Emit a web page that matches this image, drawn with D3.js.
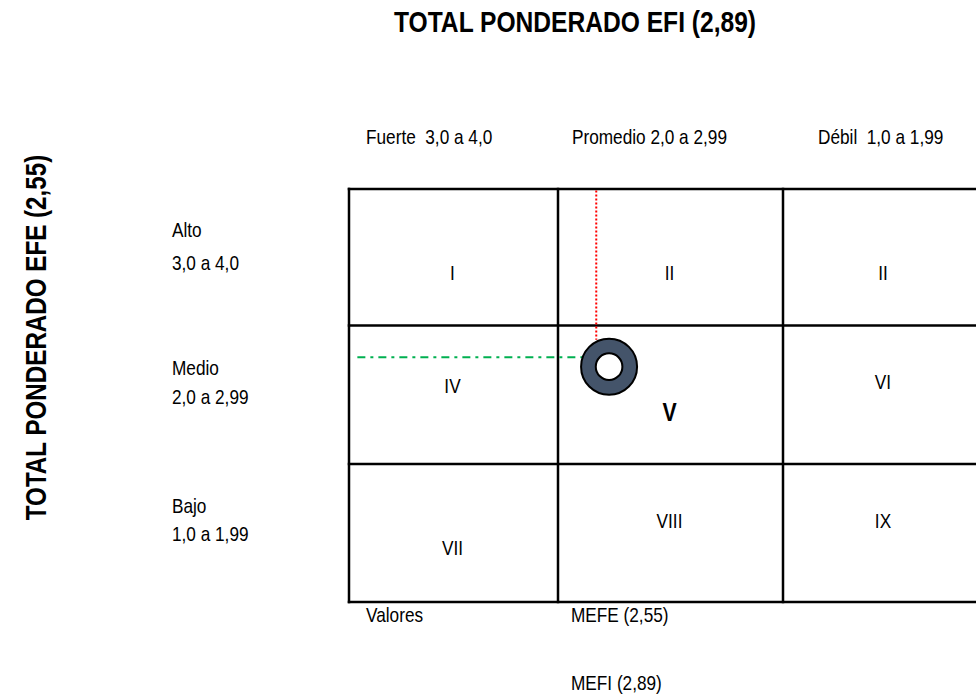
<!DOCTYPE html>
<html>
<head>
<meta charset="utf-8">
<script src="https://cdn.jsdelivr.net/npm/d3@7"></script>
<style>
  html, body { margin: 0; padding: 0; background: #fff; }
  svg { display: block; }
  text { font-family: "Liberation Sans", Arial, sans-serif; fill: #000; }
</style>
</head>
<body>
<svg id="chart" width="976" height="698"></svg>
<script>
// ---- data ----
const chartTitle = "TOTAL PONDERADO EFI (2,89)";
const yTitle = "TOTAL PONDERADO EFE (2,55)";
const colBreaks = [4, 3, 2, 1];           // EFI scale (Fuerte -> Débil)
const rowBreaks = [4, 3, 2, 1];           // EFE scale (Alto -> Bajo)
const colLabels = ["Fuerte  3,0 a 4,0", "Promedio 2,0 a 2,99", "Débil  1,0 a 1,99"];
const rowNames = ["Alto", "Medio", "Bajo"];
const rowRanges = ["3,0 a 4,0", "2,0 a 2,99", "1,0 a 1,99"];
const cellLabels = ["I", "II", "II", "IV", "V", "VI", "VII", "VIII", "IX"];
const footLabels = ["Valores", "MEFE (2,55)", "MEFI (2,89)"];
// marker positions (in EFI / EFE units)
const guideEFI = 2.83;     // red dotted vertical guide
const guideEFE = 2.77;     // green dash-dot horizontal guide
const guideStartEFI = 3.96;
const pointEFI = 2.773;    // circle marker
const pointEFE = 2.703;

// ---- layout ----
const svg = d3.select("#chart");
const x = d3.scaleLinear().domain(colBreaks).range([349, 558, 783, 985]);
const y = d3.scaleLinear().domain(rowBreaks).range([189, 325.5, 464, 602]);
const NARROW = 0.82;
const FS = 21;

function narrowText(sel, tx, ty, str, opts = {}) {
  const t = sel.append("text")
    .attr("transform", `translate(${tx},${ty})${opts.rotate ? ` rotate(${opts.rotate})` : ""} scale(${NARROW},1)`)
    .attr("text-anchor", opts.anchor || "start")
    .attr("xml:space", "preserve")
    .style("font-size", (opts.size || FS) + "px")
    .style("font-weight", opts.bold ? "bold" : "normal")
    .text(str);
  return t;
}

// title
narrowText(svg, 575, 32, chartTitle, { anchor: "middle", size: 30, bold: true });
// y title
narrowText(svg, 46, 337.5, yTitle, { anchor: "middle", size: 29.5, bold: true, rotate: -90 });

// column headers
const colStarts = [366, 572, 818];
colLabels.forEach((d, i) => narrowText(svg, colStarts[i], 143.5, d));

// row labels
const nameDy = [47.5, 49, 48.5];
const rangeDy = [81, 78, 76.5];
rowNames.forEach((name, i) => {
  const top = y(rowBreaks[i]);
  narrowText(svg, 172, top + nameDy[i], name);
  narrowText(svg, 172, top + rangeDy[i], rowRanges[i]);
});

// grid
const g = svg.append("g");
colBreaks.forEach(v => {
  g.append("line")
    .attr("x1", x(v)).attr("x2", x(v))
    .attr("y1", y(4) - 1.25).attr("y2", y(1) + 1.25)
    .attr("stroke", "#000").attr("stroke-width", 2.5);
});
rowBreaks.forEach(v => {
  g.append("line")
    .attr("x1", x(4) - 1.25).attr("x2", 1010)
    .attr("y1", y(v)).attr("y2", y(v))
    .attr("stroke", "#000").attr("stroke-width", 2.5);
});

// cell labels (baseline as fraction of row height)
const cellYFrac = [0.67, 0.67, 0.67, 0.484, 0.69, 0.462, 0.663, 0.467, 0.467];
cellLabels.forEach((lab, k) => {
  const r = Math.floor(k / 3), c = k % 3;
  const cx = (x(colBreaks[c]) + x(colBreaks[c + 1])) / 2 - 1;
  const top = y(rowBreaks[r]), bot = y(rowBreaks[r + 1]);
  const isBold = lab === "V";
  narrowText(svg, cx, top + (bot - top) * cellYFrac[k], lab,
    { anchor: "middle", size: isBold ? 26 : FS, bold: isBold });
});

// guides
const R = 28;
svg.append("line")
  .attr("x1", x(guideEFI)).attr("x2", x(guideEFI))
  .attr("y1", y(4) + 1.5).attr("y2", y(pointEFE) - R + 1)
  .attr("stroke", "#ff0000").attr("stroke-width", 2)
  .attr("stroke-dasharray", "2,2");
svg.append("line")
  .attr("x1", x(guideStartEFI)).attr("x2", x(pointEFI) - R + 2)
  .attr("y1", y(guideEFE)).attr("y2", y(guideEFE))
  .attr("stroke", "#00b050").attr("stroke-width", 2)
  .attr("stroke-dasharray", "8,5,3,5");

// ring marker
const ring = d3.arc().innerRadius(13.3).outerRadius(R).startAngle(0).endAngle(2 * Math.PI);
svg.append("path")
  .attr("transform", `translate(${x(pointEFI)},${y(pointEFE)})`)
  .attr("d", ring())
  .attr("fill", "#44546a")
  .attr("stroke", "#000").attr("stroke-width", 2);

// footer
narrowText(svg, 366, 621.5, footLabels[0]);
narrowText(svg, 571, 621.5, footLabels[1]);
narrowText(svg, 571, 689.5, footLabels[2]);
</script>
</body>
</html>
